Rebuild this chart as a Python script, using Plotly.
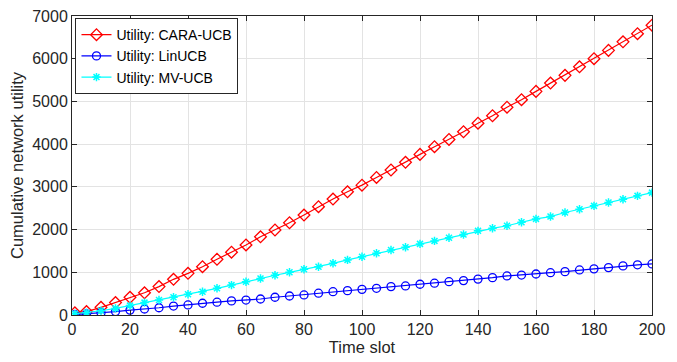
import plotly.graph_objects as go

x = [1] + list(range(5, 201, 5))

cara_ucb = [50, 80, 180, 290, 415, 520, 665, 835, 975, 1130, 1305, 1470, 1640, 1830, 1990,
            2160, 2340, 2535, 2715, 2885, 3040, 3220, 3395, 3575, 3760, 3940, 4110, 4290,
            4490, 4665, 4865, 5040, 5235, 5430, 5610, 5810, 6000, 6195, 6395, 6585, 6785]
lin_ucb = [10, 25, 55, 80, 115, 140, 170, 210, 235, 275, 300, 330, 350, 375, 415,
           445, 470, 510, 545, 570, 600, 625, 665, 680, 720, 745, 780, 805,
           840, 875, 915, 935, 960, 990, 1015, 1055, 1080, 1110, 1150, 1175, 1195]
mv_ucb = [30, 55, 100, 155, 220, 290, 350, 415, 485, 545, 625, 700, 780, 855, 930,
          1000, 1070, 1130, 1210, 1290, 1365, 1445, 1520, 1585, 1665, 1735, 1810, 1885,
          1970, 2030, 2090, 2170, 2250, 2305, 2400, 2475, 2555, 2635, 2710, 2790, 2865]

x_ticks = list(range(0, 201, 20))
y_ticks = list(range(0, 7001, 1000))

FONT = "Liberation Sans, Arial, sans-serif"

fig = go.Figure()
fig.add_trace(go.Scatter(x=x, y=cara_ucb, mode="lines+markers", name="Utility: CARA-UCB",
                         line=dict(color="#ff0000", width=1.2),
                         marker=dict(symbol="diamond-open", size=9, color="#ff0000",
                                     line=dict(width=1.3, color="#ff0000"))))
fig.add_trace(go.Scatter(x=x, y=lin_ucb, mode="lines+markers", name="Utility: LinUCB",
                         line=dict(color="#0000ff", width=1.2),
                         marker=dict(symbol="circle-open", size=8, color="#0000ff",
                                     line=dict(width=1.3, color="#0000ff"))))
fig.add_trace(go.Scatter(x=x, y=mv_ucb, mode="lines+markers", name="Utility: MV-UCB",
                         line=dict(color="#00ffff", width=1.2),
                         marker=dict(symbol="asterisk-open", size=7, color="#00ffff",
                                     line=dict(width=1.5, color="#00ffff"))))

axis_common = dict(showline=True, linecolor="#262626", linewidth=1, mirror="allticks",
                   ticks="inside", ticklen=5, tickcolor="#262626", automargin=False,
                   showgrid=True, gridcolor="#e3e3e3", gridwidth=1, zeroline=False,
                   tickfont=dict(family=FONT, size=16, color="#262626"))

fig.update_xaxes(range=[0, 200], tickvals=x_ticks, ticktext=[str(v) for v in x_ticks],
                 title=dict(text="Time slot", standoff=4,
                            font=dict(family=FONT, size=16.5, color="#262626")),
                 **axis_common)
fig.update_yaxes(range=[0, 7000], tickvals=y_ticks, ticktext=[str(v) for v in y_ticks],
                 title=dict(text="Cumulative network utility", standoff=4,
                            font=dict(family=FONT, size=16.5, color="#262626")),
                 **axis_common)

fig.update_layout(
    width=677, height=362,
    margin=dict(l=72, r=25, t=16, b=47),
    paper_bgcolor="white", plot_bgcolor="white",
    showlegend=True,
    legend=dict(x=0.006, y=0.993, xanchor="left", yanchor="top",
                bgcolor="white", bordercolor="#262626", borderwidth=1,
                font=dict(family=FONT, size=14, color="#000000"),
                tracegroupgap=0, itemwidth=30),
)

fig.write_html("out.html")
